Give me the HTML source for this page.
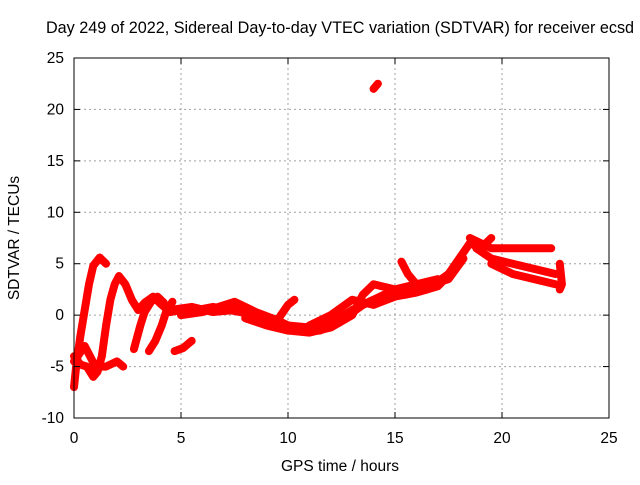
<!DOCTYPE html>
<html><head><meta charset="utf-8"><style>
body{margin:0;background:#fff}
svg{font-family:"Liberation Sans",sans-serif;font-size:15.5px}
</style></head><body>
<svg id="c" width="640" height="480">
<text x="340" y="33" text-anchor="middle" style="font-size:16.2px">Day 249 of 2022, Sidereal Day-to-day VTEC variation (SDTVAR) for receiver ecsd</text>
<text x="340" y="471" text-anchor="middle">GPS time / hours</text>
<text transform="translate(19,238) rotate(-90)" text-anchor="middle">SDTVAR / TECUs</text>
<g id="grid"></g><g id="marks"></g><g id="axes"></g>
</svg>
<script>
const xTicks=[0,5,10,15,20,25];
const yTicks=[-10,-5,0,5,10,15,20,25];
const s1x=[0,0.1,0.3,0.5,0.7,0.9,1.2,1.5];
const s1y=[-7,-5,-2,0.5,3,4.8,5.6,5];
const s2x=[0,0.3,0.6,0.9,1.1,1.3,1.5,1.7,1.9,2.1,2.4,2.7,3,3.3,3.7,4.1,4.5,5];
const s2y=[-4,-4.8,-5,-6,-5.5,-4,-1,1.5,3,3.8,3,1.5,0.5,1.2,1.8,1,0.3,0.5];
const s3x=[0,0.5,1,1.5,2,2.3];
const s3y=[-4.5,-3,-5,-5,-4.5,-5];
const s4x=[2.8,3.1,3.3,3.6,3.9,4.2];
const s4y=[-3.3,-1,0.3,1.3,1.8,1.2];
const s5x=[3.5,3.8,4.1,4.3,4.6];
const s5y=[-3.5,-2.5,-1,0.3,1.3];
const s6x=[4.7,5.1,5.5];
const s6y=[-3.5,-3.2,-2.5];
const s7x=[4.5,5.5,6.5,7.5,8.5,9.5,10.5,11.5,12.5,13.5,14.5,15.5,16.5,17.5,18.5,19,19.5];
const s7y=[0.5,0.8,0.3,0.5,0,-0.5,-1.5,-1.5,-0.5,1,2,2,2.5,4,7,6.5,7.5];
const s8x=[5,6,7.5,8.5,9.5,10,10.3];
const s8y=[0,0.3,1.3,0.3,-0.5,1,1.5];
const s9x=[8,9,10,11,12,13,13.5,14,15,16,17];
const s9y=[-0.3,-1,-1.5,-1.7,-1.2,0,2,3,2.5,3,3.5];
const s10x=[11,12,13,14,15,16,17,17.8];
const s10y=[-1,0,1.5,1,1.8,2.2,2.8,4.5];
const s11x=[18.5,19,19.5,20.5,21.5,22.3];
const s11y=[7.5,7,6.5,6.5,6.5,6.5];
const s12x=[18.8,19.5,20.5,21.5,22.5];
const s12y=[6.5,5.5,5,4.5,4];
const s13x=[19.5,20.5,21.5,22.5];
const s13y=[5,4,3.5,3];
const s14x=[22.7,22.8,22.7];
const s14y=[5,3,2.5];
const s15x=[15.3,15.6,16];
const s15y=[5.2,4,3];
const s16x=[14,14.2];
const s16y=[22,22.5];
const s17x=[5,6.5,8,9,10,11,12,13,14];
const s17y=[0.2,0.8,0.2,-0.3,-1,-1.2,-0.8,0.5,1.5];
const s18x=[14.5,15.5,16.5,17.5,18.2];
const s18y=[1.5,2.5,2.8,3.5,5.5];
const seriesX=[s1x,s2x,s3x,s4x,s5x,s6x,s7x,s8x,s9x,s10x,s11x,s12x,s13x,s14x,s15x,s16x,s17x,s18x];
const seriesY=[s1y,s2y,s3y,s4y,s5y,s6y,s7y,s8y,s9y,s10y,s11y,s12y,s13y,s14y,s15y,s16y,s17y,s18y];
const L=74,R=609,T=58,B=418;
const X=v=>L+(v-0)/25*(R-L);
const Y=v=>B-(v+10)/35*(B-T);
const NS='http://www.w3.org/2000/svg';
const grid=document.getElementById('grid'),marks=document.getElementById('marks'),axes=document.getElementById('axes');
function mk(t,a,p){const e=document.createElementNS(NS,t);for(const k in a)e.setAttribute(k,a[k]);p.appendChild(e);return e;}
xTicks.forEach(t=>{
 const g=mk('line',{x1:X(t),x2:X(t),y1:T,y2:B,stroke:'#a0a0a0','stroke-dasharray':'2,3'},grid);
 
 
 const l=mk('text',{x:X(t),y:B+25,'text-anchor':'middle'},axes);l.textContent=t;
 
 
 mk('line',{x1:X(t),x2:X(t),y1:B,y2:B-6,stroke:'#000'},axes);
 mk('line',{x1:X(t),x2:X(t),y1:T,y2:T+6,stroke:'#000'},axes);
});
yTicks.forEach(t=>{
 const g=mk('line',{x1:L,x2:R,y1:Y(t),y2:Y(t),stroke:'#a0a0a0','stroke-dasharray':'2,3'},grid);
 
 
 const l=mk('text',{x:L-10,y:Y(t)+5,'text-anchor':'end'},axes);l.textContent=t;
 
 
 mk('line',{x1:L,x2:L+6,y1:Y(t),y2:Y(t),stroke:'#000'},axes);
 mk('line',{x1:R,x2:R-6,y1:Y(t),y2:Y(t),stroke:'#000'},axes);
});
const fr=mk('rect',{x:L,y:T,width:R-L,height:B-T,fill:'none',stroke:'#000'},axes);


seriesX.forEach((xs,i)=>{
 const ys=seriesY[i];
 const pts=xs.map((x,j)=>X(x)+','+Y(ys[j])).join(' ');
 const p=mk('polyline',{points:pts,fill:'none',stroke:'#ff0000','stroke-width':8,'stroke-linejoin':'round','stroke-linecap':'round'},marks);
 
 
});
</script>
</body></html>
